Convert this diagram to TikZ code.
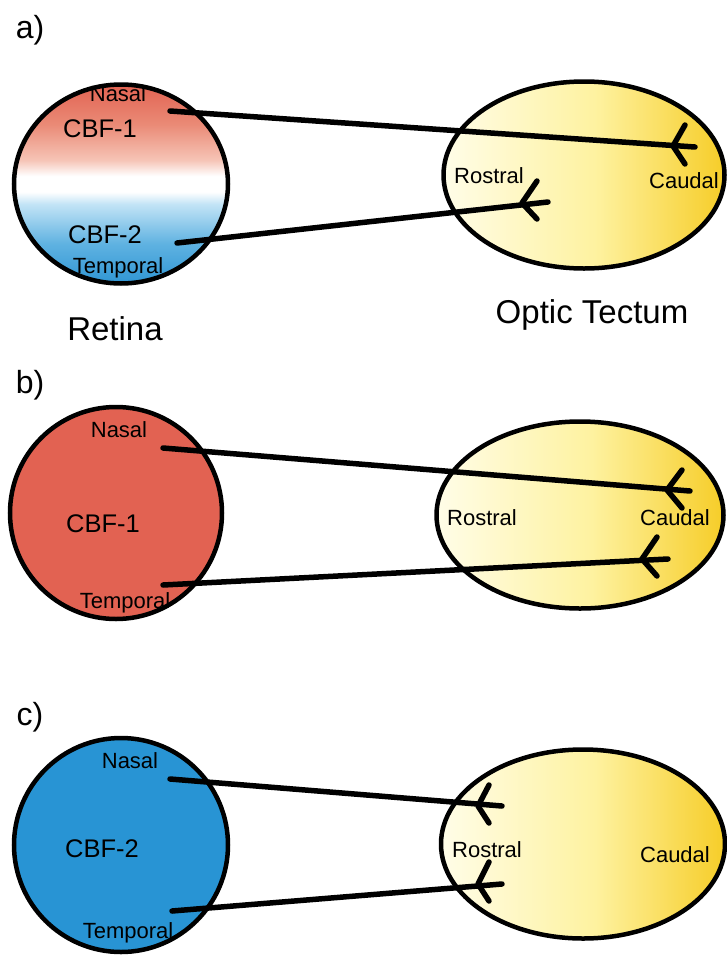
\documentclass[tikz,border=0pt]{standalone}
\usepackage{fontspec}
\setmainfont{Liberation Sans}
\usetikzlibrary{shapes.geometric}
\definecolor{redA}{RGB}{226,98,82}
\definecolor{redB}{RGB}{234,138,118}
\definecolor{redC}{RGB}{246,196,182}
\definecolor{bluA}{RGB}{48,150,212}
\definecolor{bluB}{RGB}{95,178,225}
\definecolor{bluC}{RGB}{195,228,246}
\definecolor{retB}{RGB}{226,98,82}
\definecolor{retC}{RGB}{40,148,212}
\definecolor{tecL}{RGB}{255,253,232}
\definecolor{tecM}{RGB}{254,242,160}
\definecolor{tecR}{RGB}{246,205,40}
\pgfdeclareverticalshading{retinaA}{100bp}{color(0bp)=(bluA); color(25bp)=(bluA); color(35bp)=(bluB); color(45bp)=(bluC); color(48bp)=(white); color(52bp)=(white); color(56bp)=(redC); color(65bp)=(redB); color(75bp)=(redA); color(100bp)=(redA)}
\pgfdeclarehorizontalshading{tectum}{100bp}{color(0bp)=(tecL); color(25bp)=(tecL); color(52bp)=(tecM); color(75bp)=(tecR); color(100bp)=(tecR)}
\begin{document}
\begin{tikzpicture}[x=1pt,y=-1pt,
  retina/.style={ellipse, draw=black, line width=4.5pt, inner sep=0pt},
  tect/.style={ellipse, draw=black, line width=4.5pt, inner sep=0pt, shading=tectum},
  small/.style={font=\fontsize{22}{26}\selectfont, anchor=base, inner sep=0pt},
  cbf/.style={font=\fontsize{25.5}{30}\selectfont, anchor=base, inner sep=0pt},
  big/.style={font=\fontsize{33}{38}\selectfont, anchor=base, inner sep=0pt},
  panel/.style={font=\fontsize{32}{38}\selectfont, inner sep=0pt},
  axon/.style={line width=5.5pt, line cap=round},
  fork/.style={line width=5.5pt, line cap=round, line join=round}]
\useasboundingbox[fill=white] (0,0) rectangle (727,956);

% ---------- panel a ----------
\node[panel] (pa) at (30,30) {a)};
\node[retina, shading=retinaA, minimum width=214pt, minimum height=199pt] (ra) at (121,184) {};
\node[tect, minimum width=281pt, minimum height=187pt] (ta) at (584,175) {};
\node[small] (na) at (118,101) {Nasal};
\node[cbf] (ca) at (100,137) {CBF-1};
\node[cbf] (cb) at (105,243) {CBF-2};
\node[small] (tpa) at (118,273) {Temporal};
\node[big] (ret) at (115,340) {Retina};
\node[big] (opt) at (592,323) {Optic Tectum};
\node[small] (rosa) at (489,183) {Rostral};
\node[small] (cauda) at (684,188) {Caudal};
\coordinate (a1s) at (170,111); \coordinate (a1e) at (695,147);
\coordinate (a1v) at (673,146); \coordinate (a1u) at (685,125); \coordinate (a1d) at (685,164);
\coordinate (a2s) at (177,243); \coordinate (a2e) at (548,202);
\coordinate (a2v) at (522,203); \coordinate (a2u) at (537,181); \coordinate (a2d) at (537,219);
\draw[axon] (a1s) -- (a1e);
\draw[fork] (a1u) -- (a1v) -- (a1d);
\draw[axon] (a2s) -- (a2e);
\draw[fork] (a2u) -- (a2v) -- (a2d);

% ---------- panel b ----------
\node[panel] (pb) at (30,385) {b)};
\node[retina, fill=retB, minimum size=212pt] (rb) at (116,513) {};
\node[tect, minimum width=287pt, minimum height=187pt] (tb) at (580,515) {};
\node[small] (nb) at (119,437) {Nasal};
\node[cbf] (cbb) at (103,532) {CBF-1};
\node[small] (tpb) at (125,608) {Temporal};
\node[small] (rosb) at (482,525) {Rostral};
\node[small] (caudb) at (675,525) {Caudal};
\coordinate (b1s) at (163,448); \coordinate (b1e) at (690,491);
\coordinate (b1v) at (667,490); \coordinate (b1u) at (682,470); \coordinate (b1d) at (682,508);
\coordinate (b2s) at (163,585); \coordinate (b2e) at (668,559);
\coordinate (b2v) at (642,559); \coordinate (b2u) at (657,537); \coordinate (b2d) at (657,576);
\draw[axon] (b1s) -- (b1e);
\draw[fork] (b1u) -- (b1v) -- (b1d);
\draw[axon] (b2s) -- (b2e);
\draw[fork] (b2u) -- (b2v) -- (b2d);

% ---------- panel c ----------
\node[panel] (pc) at (30,717) {c)};
\node[retina, fill=retC, minimum size=214pt] (rc) at (121,845) {};
\node[tect, minimum width=284pt, minimum height=189pt] (tc) at (583,844) {};
\node[small] (nc) at (130,768) {Nasal};
\node[cbf] (cbc) at (102,857) {CBF-2};
\node[small] (tpc) at (128,938) {Temporal};
\node[small] (rosc) at (487,857) {Rostral};
\node[small] (caudc) at (675,862) {Caudal};
\coordinate (c1s) at (170,779); \coordinate (c1e) at (502,806);
\coordinate (c1v) at (478,806); \coordinate (c1u) at (489,785); \coordinate (c1d) at (489,823);
\coordinate (c2s) at (172,911); \coordinate (c2e) at (502,884);
\coordinate (c2v) at (478,884); \coordinate (c2u) at (489,862); \coordinate (c2d) at (489,901);
\draw[axon] (c1s) -- (c1e);
\draw[fork] (c1u) -- (c1v) -- (c1d);
\draw[axon] (c2s) -- (c2e);
\draw[fork] (c2u) -- (c2v) -- (c2d);
\end{tikzpicture}
\end{document}
